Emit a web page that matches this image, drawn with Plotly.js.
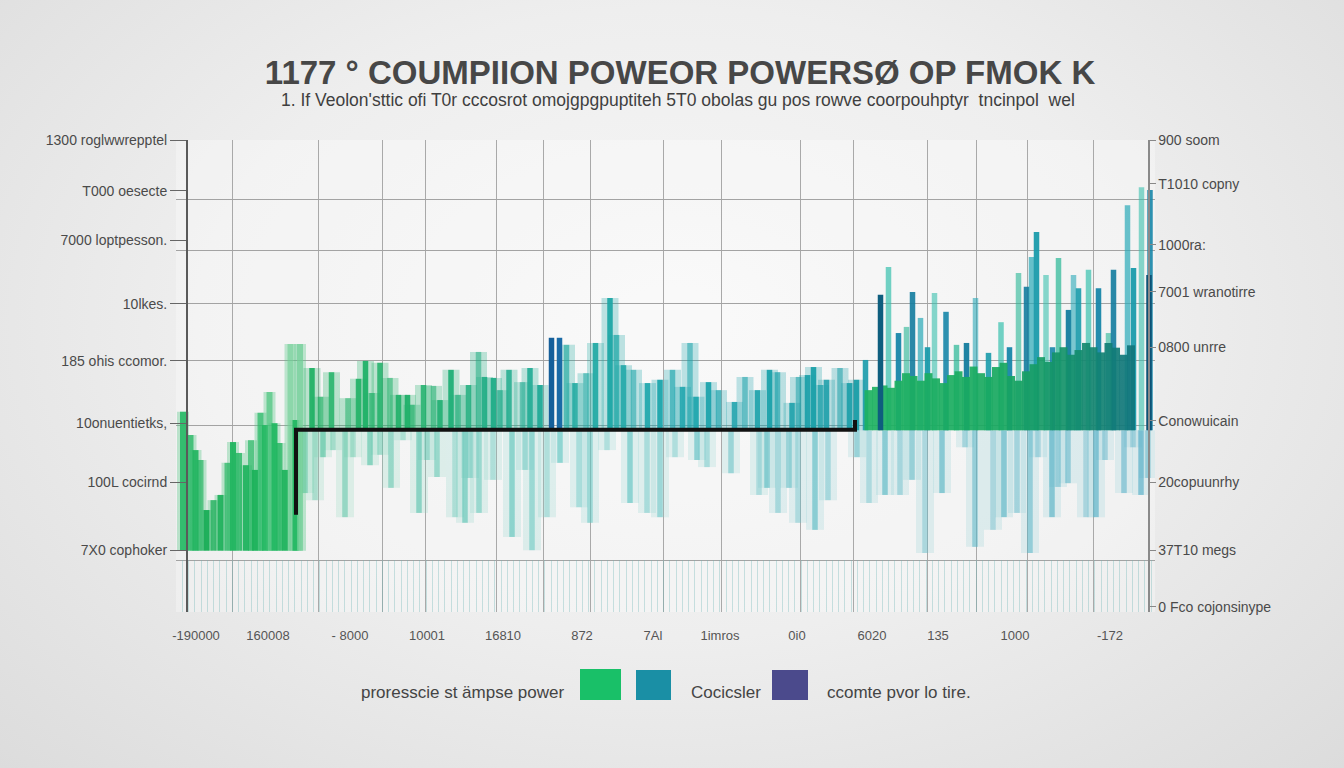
<!DOCTYPE html>
<html><head><meta charset="utf-8">
<script src="https://cdn.plot.ly/plotly-3.0.1.min.js"></script>
<style>
html,body{margin:0;padding:0;width:1344px;height:768px;overflow:hidden;
background: radial-gradient(ellipse at 50% 42%, #f7f7f7 0%, #eeeeee 50%, #dcdcdc 100%);}
#chart{width:1344px;height:768px;}
</style></head><body><div id="chart"></div>
<script>
// ---- text ----
const titleText = "1177 ° COUMPIION POWEOR POWERSØ OP FMOK K";
const subtitleText = "1. If Veolon'sttic ofi T0r cccosrot omojgpgpuptiteh 5T0 obolas gu pos rowve coorpouhptyr  tncinpol  wel";
const leftTickVals = [100, 89.2, 78.8, 65.3, 53.2, 40.0, 27.5, 13.1];
const leftTickText = ["1300 roglwwrepptel", "T000 oesecte", "7000 loptpesson.", "10lkes.", "185 ohis ccomor.", "10onuentietks,", "100L cocirnd", "7X0 cophoker"];
const rightTickVals = [100, 90.7, 77.8, 67.8, 56.1, 40.5, 27.5, 13.1, 1.1];
const rightTickText = ["900 soom", "T1010 copny", "1000ra:", "7001 wranotirre", "0800 unrre", "Conowuicain", "20copuunrhy", "37T10 megs", "0 Fco cojonsinype"];
const xTickVals = [4, 18.4, 34.8, 50.2, 65.4, 81.2, 95.4, 108.8, 124.2, 139.2, 152.4, 167.8, 186.8];
const xTickText = ["-190000", "160008", "- 8000", "10001", "16810", "872", "7Al", "1imros", "0i0", "6020", "135", "1000", "-172"];
const gridX = [11.2, 28.4, 41.2, 49.8, 64.0, 73.4, 82.8, 97.4, 109.0, 124.8, 135.4, 150.2, 160.0, 170.2, 183.4];
const gridY = [100, 87.5, 76.5, 65.3, 53.2, 39.6, 11.0, 0];
const legendNames = ["proresscie st ämpse power", "Cocicsler", "ccomte pvor lo tire."];

// ---- data ----
const leftX = [1.4, 2.9, 3.9, 4.9, 6.1, 7.5, 8.9, 10.3, 11.4, 12.6, 14.0, 15.0, 15.8, 16.9, 17.8, 18.7, 19.7, 20.7, 21.8, 22.9, 23.9, 24.8];
const leftTop = [42.4, 37.5, 34.3, 32.2, 21.6, 23.7, 24.8, 31.6, 36.0, 33.7, 31.1, 36.4, 30.1, 42.2, 39.6, 46.6, 40.0, 35.8, 30.1, 56.8, 40.7, 56.8];

const midX = [27.2, 28.9, 31.1, 34.4, 36.5, 37.9, 39.2, 40.8, 42.8, 44.5, 46.3, 47.2, 49.5, 51.5, 52.8, 55.0, 56.4, 58.5, 60.5, 61.7, 63.5, 64.8, 66.6, 69.3, 70.8, 72.8, 78.1, 79.8, 82.0, 83.9, 86.8, 88.1, 89.5, 91.5, 94.3, 96.8, 99.3, 101.3, 102.8, 104.0, 106.5, 108.5, 111.7, 113.8, 116.3, 118.7, 120.3, 123.2, 124.5, 126.3, 127.5, 128.9, 130.1, 132.8, 134.7, 136.1];
const midTop = [51.7, 45.6, 50.8, 45.3, 49.4, 53.2, 46.4, 52.8, 49.6, 46.0, 46.0, 43.9, 48.1, 47.9, 44.9, 51.3, 46.0, 48.1, 55.1, 49.8, 49.6, 47.0, 51.3, 48.7, 51.7, 48.1, 56.6, 48.5, 50.6, 57.0, 66.5, 58.7, 52.3, 51.3, 48.5, 49.2, 51.3, 47.7, 57.0, 45.6, 48.7, 47.0, 44.5, 49.8, 47.0, 51.3, 50.8, 44.3, 49.8, 50.2, 51.9, 48.1, 49.2, 51.7, 48.5, 49.2];

const blockX = [138.5, 140, 141.5, 143, 144.5, 146, 147.5, 149, 150.5, 152, 153.5, 155, 156.5, 158, 159.5, 161, 162.5, 164, 165.5, 167, 168.5, 170, 171.5, 173, 174.5, 176, 177.5, 179, 180.5, 182, 183.5, 185, 186.5, 188, 189.5, 191];
const blockTop = [47.0, 47.7, 48.0, 47.5, 49.0, 50.6, 50.0, 49.0, 50.6, 49.5, 48.5, 50.2, 51.0, 49.8, 52.0, 50.6, 49.8, 51.9, 52.8, 50.0, 49.0, 51.0, 52.5, 54.0, 53.0, 55.0, 56.1, 54.5, 55.5, 57.0, 56.1, 55.0, 57.0, 56.0, 54.5, 56.5];

const tallX = [137.9, 142.5, 144.5, 146.1, 147.3, 148.9, 150.3, 151.7, 154.0, 156.1, 158.1, 159.9, 162.5, 165.0, 166.7, 168.5, 170.1, 171.1, 172.1, 174.0, 175.3, 176.5, 178.5, 179.5, 180.5, 182.5, 184.5, 186.5, 187.5, 190.3, 191.5, 193.1, 194.8];
const tallTop = [53.4, 73.1, 59.1, 60.4, 67.8, 62.3, 56.1, 67.6, 63.6, 56.6, 57.0, 66.5, 54.9, 61.4, 56.1, 71.8, 68.9, 75.2, 80.5, 71.4, 56.1, 75.0, 64.0, 71.4, 68.6, 72.5, 68.6, 59.1, 72.5, 86.2, 72.9, 90.0, 89.4];

const darkX = [75.1, 76.7, 140.9, 194.6];
const darkTop = [58.1, 58.1, 67.2, 71.4];

const lowX = [25.8, 27.8, 29.4, 31.4, 33.8, 35.4, 38.8, 40.8, 43.0, 45.4, 48.6, 50.2, 52.2, 55.8, 57.8, 58.8, 60.6, 63.4, 67.2, 69.8, 71.2, 74.2, 76.8, 80.6, 82.8, 86.2, 90.8, 94.2, 96.8, 99.8, 104.2, 106.2, 111.0, 116.6, 118.2, 120.4, 122.6, 124.4, 127.8, 130.4, 136.2, 138.6, 141.8, 144.8, 147.2, 149.8, 153.2, 157.8, 159.8, 163.4, 165.6, 168.2, 170.8, 172.4, 175.2, 176.4, 178.4, 182.0, 184.0, 185.8, 189.6, 191.4, 193.0, 194.4];
const lowBottom = [25.2, 23.7, 32.8, 34.3, 20.1, 32.8, 31.1, 33.3, 26.3, 36.4, 21.0, 32.2, 28.6, 20.1, 18.9, 28.4, 21.0, 28.0, 15.9, 30.1, 13.1, 20.1, 31.6, 22.2, 18.9, 34.3, 23.1, 21.0, 20.1, 32.8, 32.2, 30.7, 29.4, 24.8, 26.3, 21.0, 26.3, 18.9, 17.4, 23.7, 32.8, 23.1, 24.8, 24.8, 28.0, 12.5, 25.2, 34.9, 13.8, 17.4, 20.1, 21.0, 12.5, 32.8, 20.1, 26.5, 27.3, 20.1, 20.1, 32.2, 25.2, 34.9, 24.8, 28.4];

const stepX = [24, 24, 135.8, 135.8];
const stepY = [20.6, 38.6, 38.6, 40.7];

// ---- drawing ----
const BASELINE = 38.5, LEFTBASE = 13;
const FONT = "Liberation Sans, Arial, sans-serif";
const XR = [0, 195.8];
const pattern = (arr, p) => arr.map((_, i) => p[i % p.length]);
const midScale = [[0,'#22b35f'],[0.25,'#20b06a'],[0.32,'#21ad86'],[0.4,'#1fa99f'],[0.5,'#1ca5ad'],[0.7,'#1b9ea8'],[1,'#1787a8']];
const tallPalette = ['#1a9bab','#38c0ae','#1786a9','#27b694','#137c9e','#2aa9b8'];

const traces = [
  // lower pale bars (wide + narrow)
  {type:'bar', x:lowX, base:lowBottom, y:lowBottom.map(v=>BASELINE-v), width:3.6,
   marker:{color:lowX, colorscale:[[0,'#7fd6a8'],[0.4,'#86d2cc'],[1,'#8acbd6']], cmin:0, cmax:195, opacity:0.22, line:{width:0}}, hoverinfo:'skip'},
  {type:'bar', x:lowX, base:lowBottom, y:lowBottom.map(v=>BASELINE-v), width:1.1,
   marker:{color:lowX, colorscale:[[0,'#49c08a'],[0.4,'#5cc4c0'],[1,'#4aa9c4']], cmin:0, cmax:195, opacity:pattern(lowX,[0.5,0.35,0.6,0.4]), line:{width:0}}, hoverinfo:'skip'},
  // left green section
  {type:'bar', x:leftX, base:LEFTBASE, y:leftTop.map(v=>v-LEFTBASE), width:2.4,
   marker:{color:'#52c784', opacity:0.35, line:{width:0}}, hoverinfo:'skip'},
  {type:'bar', x:leftX, base:LEFTBASE, y:leftTop.map(v=>v-LEFTBASE), width:1.2,
   marker:{color:leftTop, colorscale:[[0,'#17ac55'],[0.55,'#22b862'],[1,'#72cf98']], cmin:20, cmax:57, opacity:pattern(leftX,[0.95,0.75,0.9,0.65]), line:{width:0}}, hoverinfo:'skip'},
  // middle upper bars
  {type:'bar', x:midX, base:BASELINE, y:midTop.map(v=>v-BASELINE), width:3.4,
   marker:{color:midX, colorscale:midScale, cmin:0, cmax:195, opacity:0.28, line:{width:0}}, hoverinfo:'skip'},
  {type:'bar', x:midX, base:BASELINE, y:midTop.map(v=>v-BASELINE), width:1.1,
   marker:{color:midX, colorscale:midScale, cmin:0, cmax:195, opacity:pattern(midX,[0.95,0.65,0.85,0.55,0.9]), line:{width:0}}, hoverinfo:'skip'},
  // right tall bars
  {type:'bar', x:tallX, base:BASELINE, y:tallTop.map(v=>v-BASELINE), width:1.1,
   marker:{color:pattern(tallX,tallPalette), opacity:pattern(tallX,[0.9,0.7,0.95,0.6]), line:{width:0}}, hoverinfo:'skip'},
  // right green block
  {type:'bar', x:blockX, base:BASELINE, y:blockTop.map(v=>v-BASELINE), width:1.6,
   marker:{color:blockX, colorscale:[[0,'#1db261'],[0.5,'#18a860'],[0.75,'#14906a'],[1,'#10737c']], cmin:138, cmax:192, opacity:0.92, line:{width:0}}, hoverinfo:'skip'},
  // dark accents
  {type:'bar', x:darkX, base:BASELINE, y:darkTop.map(v=>v-BASELINE), width:1.1,
   marker:{color:['#155f9a','#1a6aa6','#0e5e7e','#0c5275'], line:{width:0}}, hoverinfo:'skip'},
  // black step line
  {type:'scatter', mode:'lines', x:stepX, y:stepY, line:{color:'#111', width:4}, hoverinfo:'skip'},
  // dummy traces to activate overlay axes
  {type:'scatter', x:[], y:[], xaxis:'x2', yaxis:'y3', hoverinfo:'skip'},
  {type:'scatter', x:[], y:[], xaxis:'x3', yaxis:'y2', hoverinfo:'skip'}
];

const P = v => (v-176)/979;      // px -> paper x
const PY = v => (612-v)/472;     // px -> paper y

const layout = {
  width:1344, height:768,
  margin:{l:176, r:189, t:140, b:156},
  paper_bgcolor:'rgba(0,0,0,0)', plot_bgcolor:'rgba(255,255,255,0.3)',
  barmode:'overlay', showlegend:false,
  font:{family:FONT, color:'#4a4a4a'},
  title:{text:'<b>'+titleText+'</b>', font:{size:33, color:'#474747', family:FONT},
         x:0.506, xref:'container', xanchor:'center', y:1-72/768, yref:'container', yanchor:'middle'},
  xaxis:{range:XR, domain:[0,1], tickvals:xTickVals, ticktext:xTickText, ticks:'', showgrid:false,
         zeroline:false, showline:false, tickfont:{size:13, color:'#555'}, ticklabelstandoff:14, fixedrange:true},
  xaxis2:{range:XR, overlaying:'x', anchor:'y', tickvals:gridX, showgrid:true, gridcolor:'#a9a9a9', gridwidth:1,
          showticklabels:false, ticks:'', zeroline:false, showline:false},
  xaxis3:{range:XR, overlaying:'x', anchor:'y', tick0:0, dtick:1.25, ticks:'inside', ticklen:52, tickwidth:1,
          tickcolor:'rgba(110,180,180,0.35)', showticklabels:false, showgrid:false, zeroline:false, showline:false},
  yaxis:{range:[0,100], anchor:'free', position:P(187), tickvals:leftTickVals, ticktext:leftTickText,
         ticks:'outside', ticklen:16, tickcolor:'#666', showline:true, linecolor:'#5a5a5a', linewidth:2,
         showgrid:false, zeroline:false, tickfont:{size:14, color:'#4a4a4a'}},
  yaxis2:{range:[0,100], overlaying:'y', side:'right', anchor:'free', position:P(1148),
          tickvals:rightTickVals, ticktext:rightTickText, ticks:'outside', ticklen:6, tickcolor:'#888',
          showline:true, linecolor:'#8a8a8a', linewidth:1.5, showgrid:false, zeroline:false,
          tickfont:{size:14, color:'#4a4a4a'}},
  yaxis3:{range:[0,100], overlaying:'y', anchor:'x', tickvals:gridY, showgrid:true, gridcolor:'#a3a3a3', gridwidth:1,
          showticklabels:false, ticks:'', zeroline:false, showline:false},
  annotations:[
    {text:subtitleText, xref:'paper', yref:'paper', x:P(678), y:PY(100), showarrow:false,
     font:{size:17.5, color:'#3f3f3f'}, xanchor:'center', yanchor:'middle'},
    {text:legendNames[0], xref:'paper', yref:'paper', x:P(566), y:PY(692), showarrow:false,
     font:{size:17, color:'#444'}, xanchor:'right', yanchor:'middle'},
    {text:legendNames[1], xref:'paper', yref:'paper', x:P(689), y:PY(692), showarrow:false,
     font:{size:17, color:'#444'}, xanchor:'left', yanchor:'middle'},
    {text:legendNames[2], xref:'paper', yref:'paper', x:P(825), y:PY(692), showarrow:false,
     font:{size:17, color:'#444'}, xanchor:'left', yanchor:'middle'}
  ],
  shapes:[
    {type:'rect', xref:'paper', yref:'paper', x0:P(580), x1:P(621), y0:PY(700), y1:PY(669), fillcolor:'#19c068', line:{width:0}},
    {type:'rect', xref:'paper', yref:'paper', x0:P(636), x1:P(671), y0:PY(700), y1:PY(670), fillcolor:'#1a8fa5', line:{width:0}},
    {type:'rect', xref:'paper', yref:'paper', x0:P(772), x1:P(808), y0:PY(700), y1:PY(670), fillcolor:'#4b4a8c', line:{width:0}}
  ]
};

Plotly.newPlot('chart', traces, layout, {displayModeBar:false, staticPlot:true});
</script>
</body></html>
